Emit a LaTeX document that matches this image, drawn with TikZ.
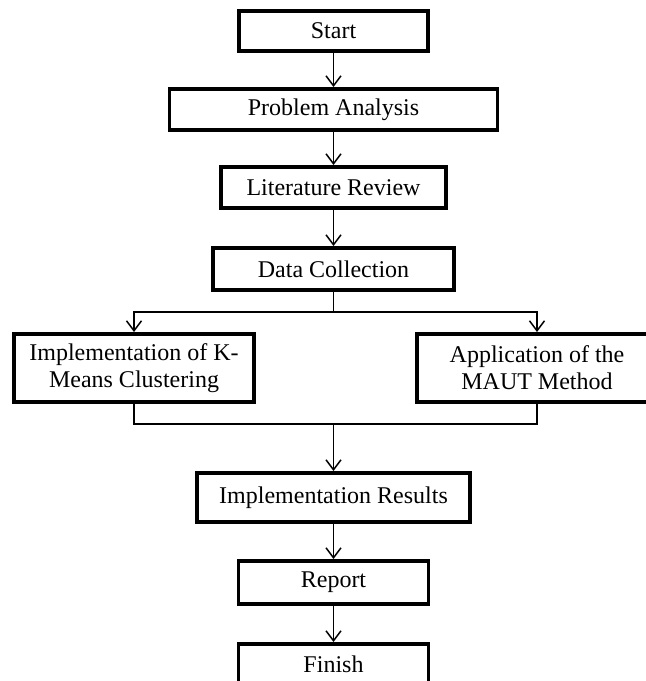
\documentclass[tikz,border=0pt]{standalone}
\usepackage{fontspec}
\setmainfont{Liberation Serif}
\usetikzlibrary{arrows.meta, positioning, calc}

\begin{document}
\begin{tikzpicture}[
    x=1pt, y=1pt,
    every node/.style={font=\fontsize{24}{27}\selectfont},
    stage/.style={draw, line width=3.8pt, minimum height=41.2pt, align=center, inner sep=2pt},
    link/.style={line width=1.5pt},
    arrow/.style={-{Straight Barb[length=10pt, width=15pt]}, line width=1.5pt}
]
\useasboundingbox (0,0) rectangle (646,-681);

% Étapes
\node[stage, minimum width=189pt, minimum height=40.2pt] (start) at (333.5,-31) {Start};
\node[stage, minimum width=328pt, below=34pt of start] (prob) {Problem Analysis};
\node[stage, minimum width=225pt, below=33pt of prob] (lit) {Literature Review};
\node[stage, minimum width=241pt, minimum height=42.2pt, below=36pt of lit] (data) {Data Collection};

% Branches
\node[stage, minimum width=240pt, minimum height=68.2pt] (kmeans) at (134,-368) {Implementation of K-\\Means Clustering};
\node[stage, minimum width=240pt, minimum height=68.2pt] (maut) at (537,-368) {Application of the\\MAUT Method};

\coordinate (split) at ($(data.south)+(0,-20)$);
\coordinate (merge) at ($(split)+(0,-112)$);

\node[stage, minimum width=273pt, minimum height=49.2pt, below=47pt of merge] (res) {Implementation Results};
\node[stage, minimum width=190pt, minimum height=43.2pt, below=35pt of res] (report) {Report};
\node[stage, minimum width=190pt, below=36pt of report] (finish) {Finish};

% Flèches
\draw[arrow] (start) -- (prob);
\draw[arrow] (prob) -- (lit);
\draw[arrow] (lit) -- (data);
\draw[link] (data.south) -- (split);
\draw[arrow] (split) -| (kmeans.north);
\draw[arrow] (split) -| (maut.north);
\draw[link] (kmeans.south) |- (merge);
\draw[link] (maut.south) |- (merge);
\draw[arrow] (merge) -- (res.north);
\draw[arrow] (res) -- (report);
\draw[arrow] (report) -- (finish);

\end{tikzpicture}
\end{document}
